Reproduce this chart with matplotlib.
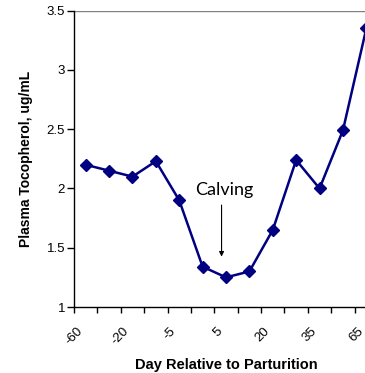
import numpy as np
import matplotlib
matplotlib.use("Agg")
import matplotlib.pyplot as plt

# plasma tocopherol by sampling day (13 sampling days, every other one labelled)
tocopherol = [2.20, 2.15, 2.10, 2.23, 1.90, 1.34, 1.25, 1.30, 1.65, 2.24, 2.00, 2.49, 3.35]
day_labels = ["-60", "-20", "-5", "5", "20", "35", "65"]

plt.rcParams['font.family'] = ['Liberation Sans', 'DejaVu Sans']

fig = plt.figure(figsize=(3.65, 3.73), dpi=100)
ax = fig.add_axes([74 / 365, 66 / 373, 304 / 365, 296.3 / 373])

x = np.arange(len(tocopherol))
ax.plot(x, tocopherol, color="#000080", lw=1.8, marker="D", markersize=6.2,
        markerfacecolor="#000080", markeredgecolor="#000080", clip_on=False, zorder=3)

ax.set_xlim(-0.5, len(tocopherol) - 0.5)
ax.set_ylim(1, 3.5)
ax.set_yticks([1, 1.5, 2, 2.5, 3, 3.5])
ax.set_yticklabels(["1", "1.5", "2", "2.5", "3", "3.5"], fontsize=9.5)

# tick marks between categories, labels near every other boundary
ax.set_xticks(np.arange(-0.5, len(tocopherol), 1), minor=True)
ax.set_xticks(np.arange(-0.5, len(tocopherol), 2) + 0.1)
ax.set_xticklabels(day_labels, rotation=45, ha="right", va="top",
                   rotation_mode="anchor", fontsize=9.5)
ax.tick_params(axis="x", which="major", length=0, pad=13)
ax.tick_params(axis="x", which="minor", length=4, width=1, direction="out")
ax.tick_params(axis="y", length=5, width=1, direction="out", pad=1.5)

for s in ["top", "right"]:
    ax.spines[s].set_visible(False)
ax.spines["left"].set_linewidth(1)
ax.spines["bottom"].set_linewidth(1)
ax.axhline(3.5, color="#808080", lw=1, zorder=1)

ax.set_ylabel("Plasma Tocopherol, ug/mL", fontsize=10, fontweight="bold", labelpad=10)
ax.set_xlabel("Day Relative to Parturition", fontsize=10.5, fontweight="bold", labelpad=8)

ax.text(5.94, 1.945, "Calving", ha="center", va="baseline", fontsize=13,
        family=["Lato", "DejaVu Sans"])
ax.annotate("", xy=(5.81, 1.425), xytext=(5.81, 1.86),
            arrowprops=dict(arrowstyle="-|>", color="black", lw=0.8,
                            mutation_scale=7, shrinkA=0, shrinkB=0))

fig.savefig("out.png", dpi=100)
